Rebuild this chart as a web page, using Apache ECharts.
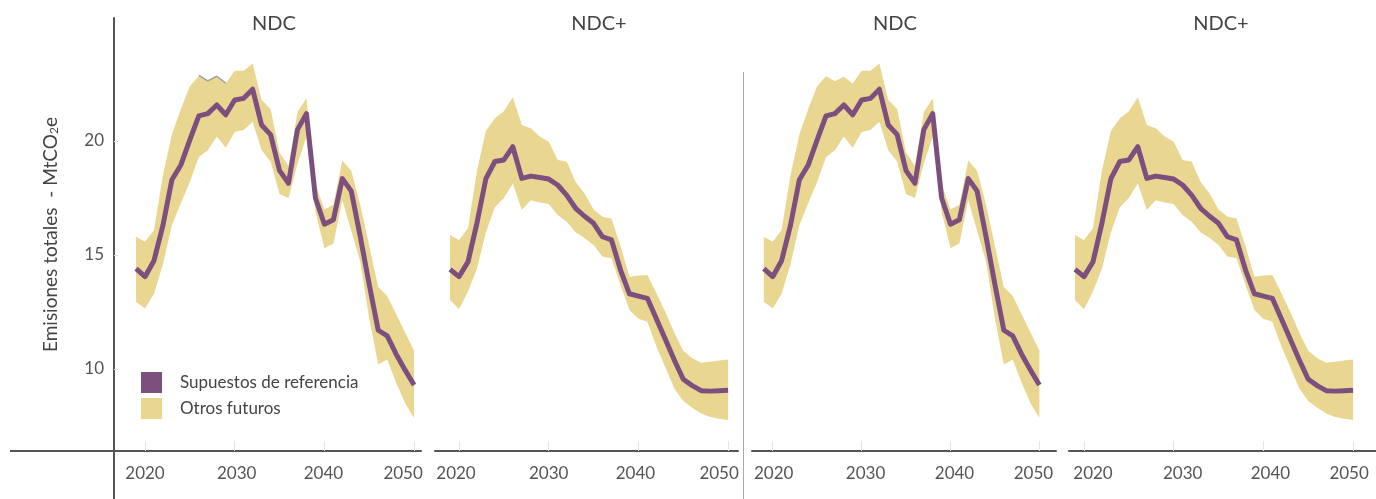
<!DOCTYPE html>
<html><head><meta charset="utf-8">
<script src="https://cdn.jsdelivr.net/npm/echarts@6/dist/echarts.min.js"></script>
<style>html,body{margin:0;padding:0;background:#fff}#c{width:1376px;height:499px}</style>
</head><body><div id="c"></div>
<script>
// ---------- DATA ----------
const years = [2019,2020,2021,2022,2023,2024,2025,2026,2027,2028,2029,2030,2031,2032,2033,2034,
               2035,2036,2037,2038,2039,2040,2041,2042,2043,2044,2045,2046,2047,2048,2049,2050];
const ndcRef  = [14.4,14.05,14.75,16.3,18.3,18.95,20.05,21.1,21.2,21.58,21.15,21.8,21.87,22.27,20.7,20.28,
                 18.7,18.15,20.5,21.2,17.5,16.35,16.55,18.35,17.8,15.8,13.7,11.7,11.45,10.65,9.95,9.3];
const ndcHigh = [15.8,15.58,16.1,18.5,20.3,21.4,22.4,22.85,22.62,22.82,22.52,23.08,23.08,23.4,21.8,21.4,
                 19.5,18.9,21.27,21.87,18.1,17.0,17.2,19.15,18.7,17.2,15.4,13.6,13.2,12.4,11.6,10.8];
const ndcLow  = [12.95,12.65,13.3,14.6,16.3,17.28,18.2,19.3,19.6,20.2,19.7,20.4,20.48,20.85,19.6,19.1,
                 17.66,17.5,19.0,20.2,16.9,15.3,15.5,17.4,16.05,14.7,12.2,10.2,10.42,9.4,8.5,7.85];
const ndcPlusRef  = [14.37,14.05,14.7,16.4,18.35,19.1,19.17,19.75,18.36,18.46,18.4,18.33,18.07,17.63,17.05,16.7,
                     16.39,15.8,15.66,14.35,13.3,13.2,13.1,12.2,11.3,10.4,9.55,9.27,9.05,9.03,9.05,9.07];
const ndcPlusHigh = [15.88,15.66,16.17,18.7,20.45,21.0,21.3,21.92,20.7,20.56,20.2,19.97,19.17,19.1,18.2,17.7,
                     17.0,16.68,16.6,15.4,14.05,14.1,14.12,13.33,12.5,11.6,10.8,10.47,10.28,10.32,10.37,10.42];
const ndcPlusLow  = [13.03,12.62,13.4,14.4,16.0,17.1,17.5,18.14,16.97,17.4,17.3,17.24,16.75,16.46,16.0,15.75,
                     15.44,14.93,14.86,13.7,12.59,12.2,12.07,11.0,10.08,9.15,8.6,8.3,8.05,7.9,7.82,7.76];
const grayYears = [2026,2027,2028,2029];
const grayVals  = [22.88,22.64,22.84,22.54];
const panelTitles = ['NDC','NDC+','NDC','NDC+'];
const xTickLabels = [2020,2030,2040,2050];
const yTickLabels = [10,15,20];
const legendNames = ['Supuestos de referencia','Otros futuros'];
const yAxisTitle = 'Emisiones totales  - MtCO{sub|2}e';

// ---------- STYLE / LAYOUT ----------
const FONT = 'Lato';
const PURPLE = '#7d4f7e';
const BAND = '#e9d791';
const AXIS = '#555555';
const TEXT = '#444444';
const TOP = 18, BOTTOM = 451;
const Y_MIN = 6.404, Y_MAX = 25.395;

const series = [ndcRef, ndcPlusRef, ndcRef, ndcPlusRef];
const highs  = [ndcHigh, ndcPlusHigh, ndcHigh, ndcPlusHigh];
const lows   = [ndcLow, ndcPlusLow, ndcLow, ndcPlusLow];
const layout = [
  {left:114,  right:421,  min:2016.544, max:2050.769, tx:274,  gray:true,  shifts:[0,2,-1,-11]},
  {left:435,  right:738,  min:2017.324, max:2051.104, tx:599,  gray:false, shifts:[-3,0,-3,-9]},
  {left:752,  right:1056, min:2017.672, max:2051.868, tx:895,  gray:false, shifts:[1,4,4,-6]},
  {left:1069, right:1376, min:2018.328, max:2052.553, tx:1221, gray:false, shifts:[9,9,7,-4]}
];

function richFor(shifts){
  const r = {};
  shifts.forEach(s => {
    if (!s) return;
    const k = (s > 0 ? 'l' : 'r') + Math.abs(s);
    r[k] = {fontFamily:FONT, fontSize:17, color:AXIS,
            padding: s > 0 ? [0,0,0,2*s] : [0,-2*s,0,0]};
  });
  return r;
}

const grids = [], xAxes = [], yAxes = [], allSeries = [], titles = [];
layout.forEach((p, i) => {
  grids.push({left:p.left, width:p.right - p.left, top:TOP, height:BOTTOM - TOP, containLabel:false});
  titles.push({text:panelTitles[i], left:p.tx, top:14, textAlign:'center', padding:0,
    textStyle:{fontFamily:FONT, fontSize:20, fontWeight:'normal', color:TEXT}});
  xAxes.push({
    gridIndex:i, type:'value', min:p.min, max:p.max,
    axisLine:{show:true, lineStyle:{color:AXIS, width:2}},
    axisTick:{show:true, inside:true, length:10, customValues:xTickLabels, lineStyle:{color:'#e6e6e6', width:1}},
    axisLabel:{customValues:xTickLabels, fontFamily:FONT, fontSize:17, color:AXIS, margin:14,
      formatter:(v) => {
        const j = xTickLabels.indexOf(Math.round(v));
        const s = p.shifts[j] || 0;
        return s ? `{${s > 0 ? 'l' : 'r'}${Math.abs(s)}|${Math.round(v)}}` : String(Math.round(v));
      },
      rich:richFor(p.shifts)},
    splitLine:{show:false}
  });
  const ya = {
    gridIndex:i, type:'value', min:Y_MIN, max:Y_MAX, show:i === 0,
    axisLine:{show:true, lineStyle:{color:AXIS, width:2}},
    axisTick:{show:true, inside:true, length:4, customValues:yTickLabels, lineStyle:{color:'#dddddd'}},
    axisLabel:{customValues:yTickLabels, fontFamily:FONT, fontSize:17, color:AXIS, margin:10},
    splitLine:{show:false}
  };
  if (i === 0) {
    Object.assign(ya, {name:yAxisTitle, nameLocation:'middle', nameGap:54, nameRotate:90,
      nameTextStyle:{fontFamily:FONT, fontSize:19, color:TEXT, verticalAlign:'bottom',
        rich:{sub:{fontFamily:FONT, fontSize:12, color:TEXT, verticalAlign:'bottom'}}}});
  }
  yAxes.push(ya);

  const hi = highs[i], lo = lows[i];
  allSeries.push({
    type:'custom', name:legendNames[1], xAxisIndex:i, yAxisIndex:i, silent:true, z:1,
    itemStyle:{color:BAND},
    data:years.map((y, k) => [y, lo[k], hi[k]]),
    encode:{x:0, y:[1,2]},
    renderItem:(params, api) => {
      if (params.dataIndex !== 0) return null;
      const pts = [];
      for (let k = 0; k < years.length; k++) pts.push(api.coord([years[k], hi[k]]));
      for (let k = years.length - 1; k >= 0; k--) pts.push(api.coord([years[k], lo[k]]));
      return {type:'polygon', shape:{points:pts}, style:{fill:BAND}};
    }
  });
  if (p.gray) {
    allSeries.push({type:'line', xAxisIndex:i, yAxisIndex:i, silent:true, z:2, symbol:'none',
      lineStyle:{color:'#a0a0a0', width:1.5},
      data:grayYears.map((y, k) => [y, grayVals[k]])});
  }
  allSeries.push({
    type:'line', name:legendNames[0], xAxisIndex:i, yAxisIndex:i, silent:true, z:3, symbol:'none',
    itemStyle:{color:PURPLE},
    lineStyle:{color:PURPLE, width:5, join:'round'},
    data:years.map((y, k) => [y, series[i][k]])
  });
});

const chart = echarts.init(document.getElementById('c'), null, {renderer:'canvas'});
chart.setOption({
  animation:false,
  backgroundColor:'#ffffff',
  title:titles,
  grid:grids, xAxis:xAxes, yAxis:yAxes, series:allSeries,
  legend:{left:141, top:372, orient:'vertical', padding:0, itemWidth:21, itemHeight:21, itemGap:5,
    icon:'rect', selectedMode:false,
    data:[{name:legendNames[0], itemStyle:{color:PURPLE}, lineStyle:{width:0}},
          {name:legendNames[1], itemStyle:{color:BAND}}],
    textStyle:{fontFamily:FONT, fontSize:17, color:TEXT, padding:[0,0,0,13]}},
  graphic:[
    {type:'line', silent:true, shape:{x1:10, y1:451, x2:114, y2:451}, style:{stroke:AXIS, lineWidth:2}},
    {type:'line', silent:true, shape:{x1:114, y1:451, x2:114, y2:499}, style:{stroke:AXIS, lineWidth:2}},
    {type:'line', silent:true, shape:{x1:743.5, y1:72, x2:743.5, y2:499}, style:{stroke:'#aaaaaa', lineWidth:1}}
  ]
});
</script></body></html>
